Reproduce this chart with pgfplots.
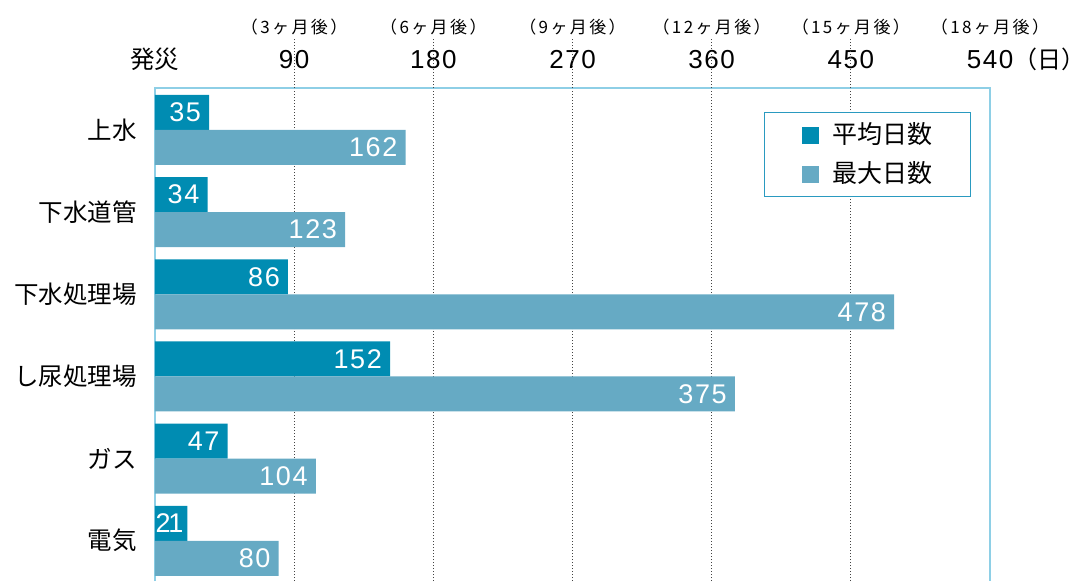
\documentclass[border=0pt]{standalone}
\usepackage{pgfplots}
\pgfplotsset{compat=1.18}
\usepackage{fontspec}
\setmainfont{Liberation Sans}
\newfontfamily\num[LetterSpace=6]{Liberation Sans}
\newfontfamily\jp{Noto Sans CJK JP}
\newfontfamily\jpsp[LetterSpace=14]{Noto Sans CJK JP}
\definecolor{avgcol}{HTML}{008CB2}
\definecolor{maxcol}{HTML}{66AAC4}
\definecolor{framecol}{HTML}{8ECFE6}
\definecolor{legcol}{HTML}{2A9AC0}
\definecolor{gridcol}{HTML}{444444}
\tikzset{gridline/.style={gridcol, line width=1.3pt, dash pattern=on 1.4pt off 1.6pt},
  month/.style={anchor=base, font=\jpsp\fontsize{17}{17}\selectfont}}
\begin{document}
\begin{tikzpicture}
\useasboundingbox (-155pt,88pt) rectangle (936pt,-493pt);
\begin{axis}[
  at={(0,0)}, anchor=north west,
  width=835pt, height=493pt, scale only axis,
  xmin=0, xmax=540, ymin=-0.49, ymax=5.511,
  xbar, clip=false,
  axis line style={draw=none},
  major tick length=0pt,
  xtick={0,90,180,270,360,450,540},
  xticklabels={{\jp\fontsize{24.5}{24.5}\selectfont 発災},90,180,270,360,450,{540\rlap{\jp\fontsize{24}{24}\selectfont （日）}}},
  xticklabel pos=right,
  xticklabel style={anchor=base, yshift=20pt, inner sep=0pt, font=\num\fontsize{26}{26}\selectfont},
  extra x ticks={90,180,270,360,450},
  extra x tick labels={},
  extra x tick style={xmajorgrids=true, major grid style={gridline}},
  ytick={0,1,2,3,4,5},
  yticklabels={電気,ガス,し尿処理場,下水処理場,下水道管,上水},
  yticklabel style={font=\jp\fontsize{24.5}{24.5}\selectfont, inner sep=0pt, xshift=-18pt},
  point meta=explicit symbolic,
  nodes near coords={\pgfplotspointmeta},
  nodes near coords style={anchor=east, inner sep=0pt, xshift=-8pt, text=white, font=\num\fontsize{27}{27}\selectfont},
  legend cell align=left,
  legend image code/.code={\fill[#1,draw=none] (0pt,-8.5pt) rectangle (17pt,8.5pt);},
  legend style={at={(0.7293,0.9513)}, anchor=north west, draw=legcol, line width=1pt,
    inner xsep=38pt, inner ysep=10pt, row sep=14pt,
    font=\jp\fontsize{25}{25}\selectfont,
    nodes={inner sep=0pt, text height=21pt, text depth=4pt},
    /tikz/every odd column/.append style={column sep=13pt}},
]
\draw[framecol, line width=1.5pt] (axis cs:0,-0.49) -- (axis cs:0,5.511) -- (axis cs:540,5.511) -- (axis cs:540,-0.49);
\addplot[fill=avgcol, draw=none, bar width=35pt, bar shift=17.5pt]
  coordinates {(35,5)[35] (34,4)[34] (86,3)[86] (152,2)[152] (47,1)[47] (21,0)[{2\kern-2.5pt 1\kern-4pt}]};
\addplot[fill=maxcol, draw=none, bar width=35pt, bar shift=-17.5pt]
  coordinates {(162,5)[162] (123,4)[123] (478,3)[478] (375,2)[375] (104,1)[104] (80,0)[80]};
\legend{平均日数,最大日数}
\pgfplotsinvokeforeach{90,180,270,360,450}{
  \draw[gridline] (axis cs:#1,5.511) -- ++(0,10pt);
}
\node[month] at ([yshift=55pt]axis cs:90,5.511) {（3ヶ月後）};
\node[month] at ([yshift=55pt]axis cs:180,5.511) {（6ヶ月後）};
\node[month] at ([yshift=55pt]axis cs:270,5.511) {（9ヶ月後）};
\node[month] at ([yshift=55pt]axis cs:360,5.511) {（12ヶ月後）};
\node[month] at ([yshift=55pt]axis cs:450,5.511) {（15ヶ月後）};
\node[month] at ([yshift=55pt]axis cs:540,5.511) {（18ヶ月後）};
\end{axis}
\end{tikzpicture}
\end{document}
